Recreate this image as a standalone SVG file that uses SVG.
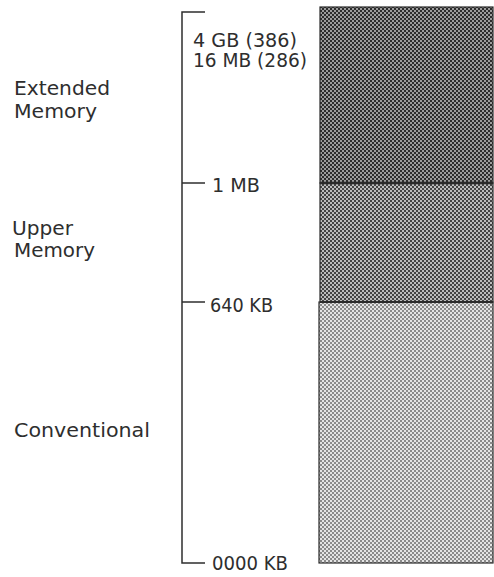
<svg xmlns="http://www.w3.org/2000/svg" width="494" height="577" viewBox="0 0 494 577">
<style>
text{font-family:"DejaVu Sans","Liberation Sans",sans-serif;font-size:19px;fill:#2e2e2e}
.ax{stroke:#2e2e2e;stroke-width:1.5;fill:none}
.blk{stroke:#2a2a2a;stroke-width:1.2}
</style>
<defs>
<pattern id="pExt" width="4" height="4" patternUnits="userSpaceOnUse">
<rect width="4" height="4" fill="#2c2c2c"/>
<rect width="2" height="2" fill="#9c9c9c"/>
<rect x="2" y="2" width="2" height="2" fill="#9c9c9c"/>
</pattern>
<pattern id="pUp" width="4" height="4" patternUnits="userSpaceOnUse">
<rect width="4" height="4" fill="#444"/>
<rect width="2" height="2" fill="#bdbdbd"/>
<rect x="2" y="2" width="2" height="2" fill="#bdbdbd"/>
</pattern>
<pattern id="pConv" width="4" height="4" patternUnits="userSpaceOnUse">
<rect width="4" height="4" fill="#e4e4e4"/>
<rect width="2" height="2" fill="#8a8a8a"/>
<rect x="2" y="2" width="2" height="2" fill="#8a8a8a"/>
</pattern>
</defs>
<rect width="494" height="577" fill="#fff"/>

<g id="extended">
<rect class="blk" x="320" y="7" width="173" height="176" fill="url(#pExt)"/>
<text x="14" y="95" textLength="96" lengthAdjust="spacingAndGlyphs">Extended</text>
<text x="14" y="118" textLength="83" lengthAdjust="spacingAndGlyphs">Memory</text>
</g>
<g id="upper">
<rect class="blk" x="320" y="183" width="173" height="119" fill="url(#pUp)"/>
<line x1="320" y1="183" x2="493" y2="183" stroke="#2a2a2a" stroke-width="2.5"/>
<text x="12" y="235" textLength="61" lengthAdjust="spacingAndGlyphs">Upper</text>
<text x="14" y="257" textLength="81" lengthAdjust="spacingAndGlyphs">Memory</text>
</g>
<g id="conventional">
<rect class="blk" x="319" y="302" width="174" height="261" fill="url(#pConv)"/>
<line x1="320" y1="302" x2="493" y2="302" stroke="#2a2a2a" stroke-width="2"/>
<text x="14" y="437" textLength="136" lengthAdjust="spacingAndGlyphs">Conventional</text>
</g>

<g id="axis">
<path class="ax" d="M205,12 H182 V563 H205"/>
<line class="ax" x1="182" y1="183" x2="205" y2="183"/>
<line class="ax" x1="182" y1="302" x2="205" y2="302"/>
</g>
<g id="scale-labels">
<text x="193" y="47" textLength="104" lengthAdjust="spacingAndGlyphs">4 GB (386)</text>
<text x="193" y="67" textLength="114" lengthAdjust="spacingAndGlyphs">16 MB (286)</text>
<text x="212" y="192" textLength="48" lengthAdjust="spacingAndGlyphs">1 MB</text>
<text x="210" y="312" textLength="63" lengthAdjust="spacingAndGlyphs">640 KB</text>
<text x="212" y="570" textLength="76" lengthAdjust="spacingAndGlyphs">0000 KB</text>
</g>
</svg>
